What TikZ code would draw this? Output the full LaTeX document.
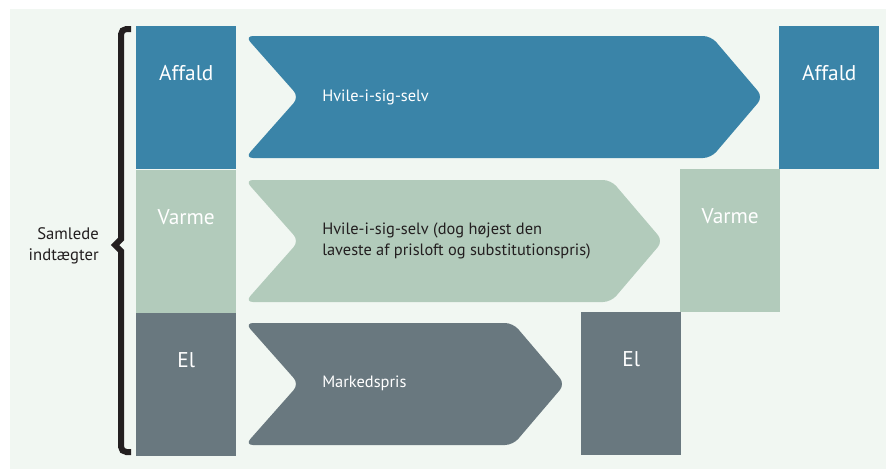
\documentclass[tikz,border=0pt]{standalone}
\usepackage{fontspec}
\setmainfont{PT Sans}
\usepackage{xcolor}
\usetikzlibrary{positioning}
\definecolor{affaldblue}{HTML}{3A84A8}
\definecolor{varmegreen}{HTML}{B2CBBB}
\definecolor{elgrey}{HTML}{69787F}
\definecolor{panel}{HTML}{F1F7F2}
\definecolor{ink}{HTML}{231F20}

\begin{document}
\begin{tikzpicture}[x=0.75pt,y=-0.75pt,
  catbox/.style={minimum width=75pt,minimum height=107.25pt,inner sep=0pt,anchor=north west},
  boxtext/.style={text=white,anchor=base,yshift=-41pt,font=\fontsize{16}{19}\selectfont},
  flowtext/.style={anchor=west,align=left,inner sep=0pt,font=\fontsize{12.3}{16.3}\selectfont}]
  \useasboundingbox (0,0) rectangle (886,469);
  \fill[panel] (10,9) rectangle (886,469);

  \node[catbox,fill=affaldblue,label={[boxtext]north:Affald}] (affaldL) at (136,26) {};
  \node[catbox,fill=varmegreen,label={[boxtext]north:Varme},below=0pt of affaldL] (varmeL) {};
  \node[catbox,fill=elgrey,label={[boxtext]north:El},below=0pt of varmeL] (elL) {};

  \node[catbox,fill=affaldblue,label={[boxtext]north:Affald}] (affaldR) at (779,26) {};
  \node[catbox,fill=varmegreen,label={[boxtext]north:Varme}] (varmeR) at (680,169) {};
  \node[catbox,fill=elgrey,label={[boxtext]north:El}] (elR) at (581,312) {};

  \foreach \top/\tip/\col in {36/763/affaldblue,180/663/varmegreen,323/565/elgrey}
    \fill[\col,rounded corners=6pt] (245,\top) -- ({\tip-52},\top) -- (\tip,{\top+61})
      -- ({\tip-52},{\top+122}) -- (245,{\top+122}) -- (299,{\top+61}) -- cycle;

  \node[flowtext,text=white] (affaldflow) at (322,97) {Hvile-i-sig-selv};
  \node[flowtext,text=ink] (varmeflow) at (322,241) {Hvile-i-sig-selv (dog højest den\\laveste af prisloft og substitutionspris)};
  \node[flowtext,text=white] (elflow) at (322,383.5) {Markedspris};

  \draw[ink,line width=4.5pt] (131,29) [rounded corners=4pt] -- (121,29) -- (121,200)
    [sharp corners] -- (121,239) -- (115,245) -- (121,251) -- (121,300)
    [rounded corners=4pt] -- (121,452) -- (131,452);
  \node[anchor=east,align=right,inner sep=0pt,text=ink,font=\fontsize{12.5}{15.75}\selectfont] (total) at (99,246) {Samlede\\indtægter};
\end{tikzpicture}
\end{document}
